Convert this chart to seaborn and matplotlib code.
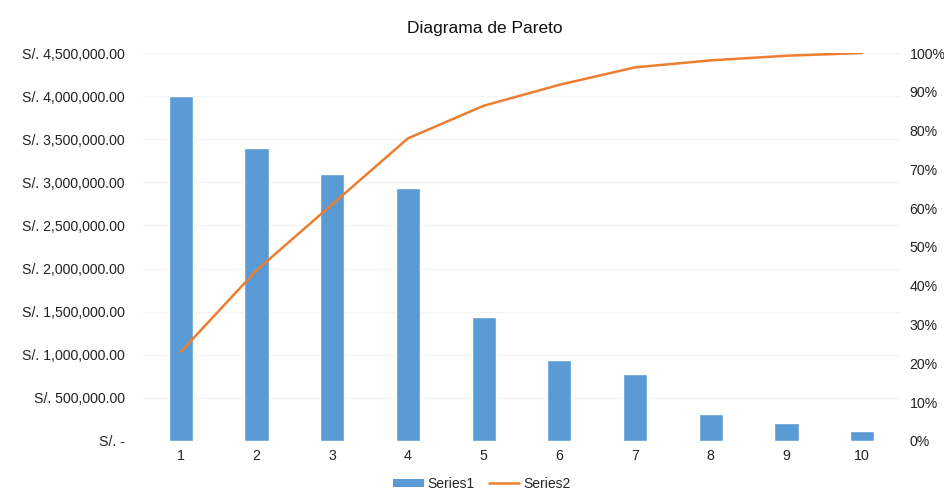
import matplotlib
matplotlib.use("Agg")
import matplotlib.pyplot as plt
from matplotlib.ticker import FuncFormatter, MultipleLocator
from matplotlib.lines import Line2D
from matplotlib.patches import Patch
import seaborn as sns
import pandas as pd
import numpy as np

# Pareto data
categories = ["1", "2", "3", "4", "5", "6", "7", "8", "9", "10"]
series1 = [4000000, 3395000, 3093000, 2938000, 1434000, 939000, 773000, 313000, 205000, 116000]
series2 = [0.23, 0.44, 0.61, 0.78, 0.864, 0.918, 0.963, 0.981, 0.993, 1.00]

BLUE = "#5B9BD5"
ORANGE = "#ED7D31"

sns.set_theme(style="white")
plt.rcParams["font.family"] = ["Liberation Sans", "DejaVu Sans"]

df = pd.DataFrame({"cat": categories, "s1": series1, "s2": series2})
df["pos"] = np.arange(len(df))

fig = plt.figure(figsize=(9.45, 5.01), dpi=100)
ax = fig.add_axes([0.1513, 0.1198, 0.8011, 0.7744])

sns.barplot(data=df, x="cat", y="s1", color=BLUE, saturation=1, width=0.32, ax=ax)
ax.set_xlim(-0.5, len(categories) - 0.5)
ax.set_ylim(0, 4500000)
ax.yaxis.set_major_locator(MultipleLocator(500000))


def money(v, _):
    if v == 0:
        return "S/. -"
    return f"S/. {v:,.2f}"


ax.yaxis.set_major_formatter(FuncFormatter(money))
ax.grid(axis="y", color="#f3f3f3", linewidth=0.8)
ax.set_axisbelow(True)
ax.set_xlabel("")
ax.set_ylabel("")
for s in ax.spines.values():
    s.set_visible(False)
ax.tick_params(axis="y", length=0, pad=13, labelsize=10.2, labelcolor="#222222")
ax.tick_params(axis="x", length=0, pad=6, labelsize=10.2, labelcolor="#222222")

ax2 = ax.twinx()
sns.lineplot(data=df, x="pos", y="s2", color=ORANGE, linewidth=1.8, ax=ax2)
ax2.set_ylim(0, 1.0)
ax2.yaxis.set_major_locator(MultipleLocator(0.1))
ax2.yaxis.set_major_formatter(FuncFormatter(lambda v, _: f"{v*100:.0f}%"))
ax2.set_xlim(-0.5, len(categories) - 0.5)
ax2.set_xlabel("")
ax2.set_ylabel("")
for s in ax2.spines.values():
    s.set_visible(False)
ax2.tick_params(axis="y", length=0, pad=7, labelsize=10.2, labelcolor="#222222")

fig.text(0.513, 0.944, "Diagrama de Pareto", ha="center", va="center",
         fontsize=12.5, color="#111111")

handles = [Patch(facecolor=BLUE, edgecolor="none"),
           Line2D([0], [0], color=ORANGE, linewidth=1.8)]
fig.legend(handles, ["Series1", "Series2"], loc="center", bbox_to_anchor=(0.51, 0.034),
           ncol=2, frameon=False, fontsize=10, handlelength=2.2, handleheight=0.6,
           columnspacing=1.0, handletextpad=0.3)

fig.savefig("out.png", dpi=100)
